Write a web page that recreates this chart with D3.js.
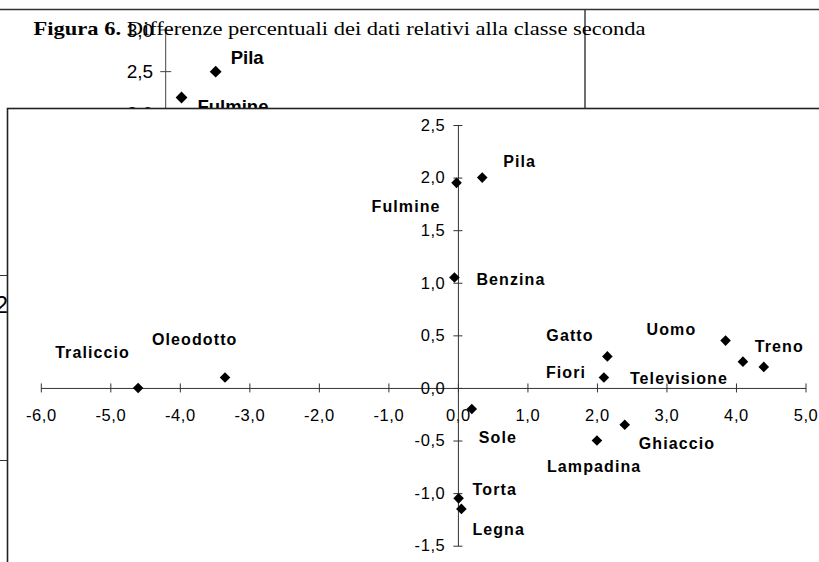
<!DOCTYPE html>
<html>
<head>
<meta charset="utf-8">
<script src="https://cdn.jsdelivr.net/npm/d3@7"></script>
<style>
  body { margin: 0; background: #fff; }
  svg { display: block; }
</style>
</head>
<body>
<svg id="chart" width="819" height="562"></svg>
<script>
// front chart: differences for the second class
const names   = ["Traliccio", "Oleodotto", "Fulmine", "Pila", "Benzina", "Gatto", "Fiori", "Uomo",
                 "Televisione", "Treno", "Sole", "Ghiaccio", "Lampadina", "Torta", "Legna"];
const xValues = [-4.6, -3.35, -0.02, 0.35, -0.05, 2.15, 2.1, 3.85, 4.1, 4.4, 0.2, 2.4, 2.0, 0.01, 0.05];
const yValues = [0.0, 0.1, 1.95, 2.0, 1.05, 0.3, 0.1, 0.45, 0.25, 0.2, -0.2, -0.35, -0.5, -1.05, -1.15];
const xTicks  = [-6, -5, -4, -3, -2, -1, 0, 1, 2, 3, 4, 5];
const yTicks  = [-1.5, -1, -0.5, 0, 0.5, 1, 1.5, 2, 2.5];

// chart lying underneath, only its top shows
const bgNames   = ["Pila", "Fulmine"];
const bgXValues = [0.6, 0.19];
const bgYValues = [2.5, 2.19];
const bgTicks   = [2, 2.5, 3];

const captionBold = "Figura 6.";
const captionText = "Differenze percentuali dei dati relativi alla classe seconda";

// label placement (pixels from the marker to the start of the text baseline)
const labelOffset = {
  Traliccio: [-83, -30], Oleodotto: [-73, -32], Fulmine: [-85, 29], Pila: [21, -11],
  Benzina: [22, 7], Gatto: [-61, -15], Fiori: [-58, 1], Uomo: [-79, -6],
  Televisione: [-113, 22], Treno: [-9, -15], Sole: [7, 34], Ghiaccio: [14, 24],
  Lampadina: [-50, 31], Torta: [14, -3], Legna: [11, 26]
};
const bgLabelOffset = { Pila: [15, -8], Fulmine: [16, 16] };

const it = d3.formatLocale({ decimal: ",", thousands: ".", grouping: [3], currency: ["", " €"], minus: "-" });
const fmt = it.format(".1f");

const svg = d3.select("#chart");
const sans = "'Liberation Sans', Arial, sans-serif";

// ---------- background chart ----------
const bg = svg.append("g");
bg.append("line")
  .attr("x1", 0).attr("x2", 819).attr("y1", 9.5).attr("y2", 9.5)
  .attr("stroke", "#333").attr("stroke-width", 1.6);
bg.append("line")
  .attr("x1", 585).attr("x2", 585).attr("y1", 9).attr("y2", 110)
  .attr("stroke", "#333").attr("stroke-width", 1.4);

const bx = d3.scaleLinear().domain([0, 1]).range([165.7, 249]);
const by = d3.scaleLinear().domain([2, 3]).range([113.3, 30]);

bg.append("line")
  .attr("x1", bx(0)).attr("x2", bx(0)).attr("y1", by(3)).attr("y2", by(1))
  .attr("stroke", "#444");
bg.selectAll(".bgtick").data(bgTicks).enter().append("line")
  .attr("x1", bx(0) - 5.5).attr("x2", bx(0) + 5.5)
  .attr("y1", d => by(d)).attr("y2", d => by(d))
  .attr("stroke", "#444");
bg.selectAll(".bglab").data(bgTicks).enter().append("text")
  .attr("x", bx(0) - 12.5).attr("y", d => by(d)).attr("dy", "0.36em")
  .attr("text-anchor", "end")
  .style("font", "19px " + sans)
  .text(d => fmt(d));
bg.selectAll(".bgpt").data(bgNames).enter().append("path")
  .attr("d", d3.symbol(d3.symbolSquare, 70))
  .attr("transform", (d, i) => `translate(${bx(bgXValues[i])},${by(bgYValues[i])}) rotate(45)`);
bg.selectAll(".bgname").data(bgNames).enter().append("text")
  .attr("x", (d, i) => bx(bgXValues[i]) + bgLabelOffset[d][0])
  .attr("y", (d, i) => by(bgYValues[i]) + bgLabelOffset[d][1])
  .style("font", "bold 18.5px " + sans)
  .text(d => d);

// bits of the underlying chart peeking out on the left
bg.append("line").attr("x1", 0).attr("x2", 8).attr("y1", 275.5).attr("y2", 275.5).attr("stroke", "#333");
bg.append("line").attr("x1", 0).attr("x2", 8).attr("y1", 460.5).attr("y2", 460.5).attr("stroke", "#333");
bg.append("text").attr("x", 8).attr("y", 313).attr("text-anchor", "end")
  .style("font", "23px " + sans).text("2");

// caption, stretched to the width it has in the page
const cap = svg.append("text")
  .attr("x", 33.5).attr("y", 34.5)
  .attr("textLength", 612).attr("lengthAdjust", "spacingAndGlyphs")
  .style("font-family", "'Liberation Serif', 'Times New Roman', serif")
  .style("font-size", "19px");
cap.append("tspan").style("font-weight", "bold").text(captionBold);
cap.append("tspan").text(" " + captionText);

// ---------- front chart ----------
svg.append("rect")
  .attr("x", 7.5).attr("y", 108.5).attr("width", 830).attr("height", 480)
  .attr("fill", "#fff").attr("stroke", "#222").attr("stroke-width", 1.6);

const x = d3.scaleLinear().domain([-6, 5]).range([40.8, 805.5]);
const y = d3.scaleLinear().domain([-1.5, 2.5]).range([545.7, 125]);

const plot = svg.append("g");

const xAxis = plot.append("g")
  .attr("transform", `translate(0,${y(0)})`)
  .call(d3.axisBottom(x).tickValues(xTicks).tickFormat(fmt).tickSizeOuter(0));
xAxis.selectAll(".tick line").attr("y1", -4.5).attr("y2", 4.5);
xAxis.selectAll(".tick text").attr("y", 21.5);

const yAxis = plot.append("g")
  .attr("transform", `translate(${x(0)},0)`)
  .call(d3.axisLeft(y).tickValues(yTicks).tickFormat(fmt).tickSizeOuter(0));
yAxis.selectAll(".tick line").attr("x1", -4.5).attr("x2", 4.5);
yAxis.selectAll(".tick text").attr("x", -12.5);

plot.selectAll(".domain, .tick line").attr("stroke", "#333");
plot.selectAll(".tick text")
  .attr("fill", "#000")
  .style("font-family", sans)
  .style("font-size", "16.5px")
  .style("letter-spacing", "0.6px");

plot.selectAll(".pt").data(names).enter().append("path")
  .attr("d", d3.symbol(d3.symbolSquare, 56))
  .attr("transform", (d, i) => `translate(${x(xValues[i])},${y(yValues[i])}) rotate(45)`)
  .attr("fill", "#000");

plot.selectAll(".name").data(names).enter().append("text")
  .attr("x", (d, i) => x(xValues[i]) + labelOffset[d][0])
  .attr("y", (d, i) => y(yValues[i]) + labelOffset[d][1])
  .style("font", "bold 16px " + sans)
  .style("letter-spacing", "1.1px")
  .text(d => d);
</script>
</body>
</html>
